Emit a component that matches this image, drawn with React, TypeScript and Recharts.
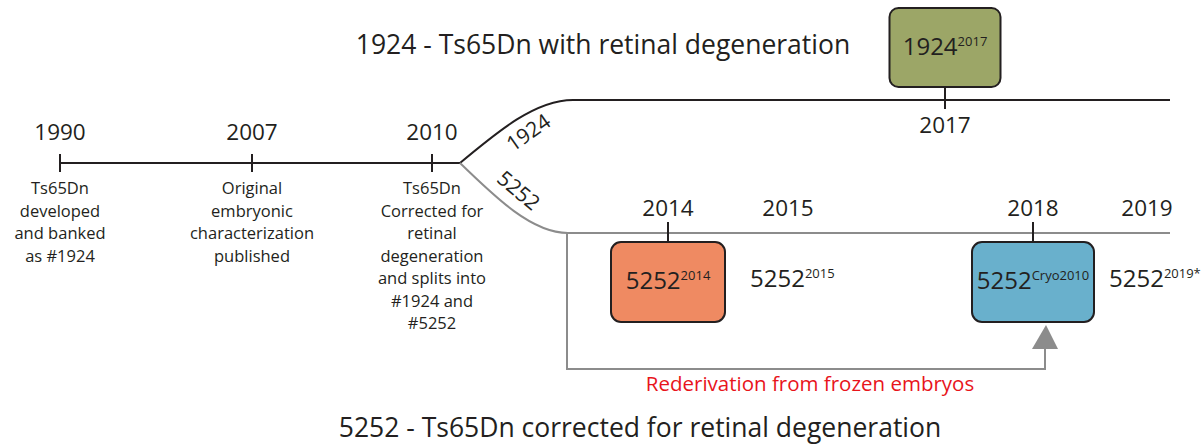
import { ComposedChart, Line, Scatter, XAxis, YAxis } from 'recharts'

// Schematic timeline. x = position along the drawing, y = track level (chart units).
const mainYears = ['1990', '2007', '2010']
const mainPos = [60, 252, 432]
const mainNotes = [
  ['Ts65Dn', 'developed', 'and banked', 'as #1924'],
  ['Original', 'embryonic', 'characterization', 'published'],
  ['Ts65Dn', 'Corrected for', 'retinal', 'degeneration', 'and splits into', '#1924 and', '#5252'],
]

const trackMain = 163
const track1924 = 100
const track5252 = 233
const forkPos = 460
const straightPos = 573
const endPos = 1170

const years1924 = ['2017']
const pos1924 = [945]
const sup1924 = ['2017']

const years5252 = ['2014', '2015', '2018', '2019']
const pos5252 = [668, 788, 1033, 1147]
const sup5252 = ['2014', '2015', 'Cryo2010', '2019*']
const boxed5252 = [true, false, true, false]

const rederivX = [567, 567, 1045, 1045]
const rederivY = [track5252, 369, 369, 349]

const titleTop = '1924 - Ts65Dn with retinal degeneration'
const titleBottom = '5252 - Ts65Dn corrected for retinal degeneration'
const rederivLabel = 'Rederivation from frozen embryos'

const ink = '#231f20'
const gray = '#8c8c8c'
const font = '"Open Sans", sans-serif'
const boxFill: Record<string, string> = {
  '2017': '#9ca667',
  '2014': '#ef8a62',
  Cryo2010: '#69b0cc',
}
const boxWidth: Record<string, number> = { '2017': 111, '2014': 114, Cryo2010: 122 }

const mainLine = [
  { x: mainPos[0], y: trackMain },
  { x: forkPos, y: trackMain },
]
const branch1924 = [
  { x: forkPos, y: trackMain },
  { x: straightPos, y: track1924 },
  { x: endPos, y: track1924 },
]
const branch5252 = [
  { x: forkPos, y: trackMain },
  { x: straightPos - 5, y: track5252 },
  { x: endPos, y: track5252 },
]
const rederivPath = rederivX.map((x, i) => ({ x, y: rederivY[i] }))
const arrowTip = [{ x: rederivX[3], y: rederivY[3] }]

const mainEvents = mainYears.map((year, i) => ({ x: mainPos[i], y: trackMain, year, note: mainNotes[i] }))
const events1924 = years1924.map((year, i) => ({ x: pos1924[i], y: track1924, year, sup: sup1924[i], name: '1924' }))
const events5252 = years5252.map((year, i) => ({
  x: pos5252[i],
  y: track5252,
  year,
  sup: sup5252[i],
  name: '5252',
  boxed: boxed5252[i],
}))
const branchLabels = [
  { x: 528, y: 132, text: '1924', angle: -35 },
  { x: 519, y: 190, text: '5252', angle: 40 },
]
const titles = [
  { x: 603, y: 54, text: titleTop, color: ink, size: 26.5 },
  { x: 640, y: 437, text: titleBottom, color: ink, size: 26.5 },
  { x: 810, y: 391, text: rederivLabel, color: '#e8141b', size: 20.5 },
]

function StrainText({ x, y, name, sup, anchor = 'middle' }: { x: number; y: number; name: string; sup: string; anchor?: string }) {
  return (
    <text x={x} y={y} textAnchor={anchor as any} fontFamily={font} fill={ink} fontSize={24}>
      <tspan>{name}</tspan>
      <tspan fontSize={13} dy={-9}>
        {sup}
      </tspan>
    </text>
  )
}

function MainTick(props: any) {
  const { cx, cy, payload } = props
  return (
    <g>
      <path d={`M${cx},${cy - 9}V${cy + 9}`} stroke={ink} strokeWidth={2} fill="none" />
      <text x={cx} y={cy - 23} textAnchor="middle" fontSize={22.5} fill={ink} fontFamily={font}>
        {payload.year}
      </text>
      <text textAnchor="middle" fontSize={16.5} fill={ink} fontFamily={font}>
        {payload.note.map((s: string, i: number) => (
          <tspan key={i} x={cx} y={cy + 31 + i * 22.5}>
            {s}
          </tspan>
        ))}
      </text>
    </g>
  )
}

function Event1924(props: any) {
  const { cx, cy, payload } = props
  const w = boxWidth[payload.sup]
  return (
    <g>
      <path d={`M${cx},${cy - 14}V${cy + 9}`} stroke={ink} strokeWidth={2} fill="none" />
      <rect x={cx - w / 2} y={cy - 92} width={w} height={79} rx={9} fill={boxFill[payload.sup]} stroke={ink} strokeWidth={2} />
      <StrainText x={cx} y={cy - 45} name={payload.name} sup={payload.sup} />
      <text x={cx} y={cy + 33} textAnchor="middle" fontSize={22.5} fill={ink} fontFamily={font}>
        {payload.year}
      </text>
    </g>
  )
}

function Event5252(props: any) {
  const { cx, cy, payload } = props
  const w = boxWidth[payload.sup]
  return (
    <g>
      {payload.boxed && (
        <>
          <path d={`M${cx},${cy - 11}V${cy + 10}`} stroke={ink} strokeWidth={2} fill="none" />
          <rect x={cx - w / 2} y={cy + 9} width={w} height={80} rx={10} fill={boxFill[payload.sup]} stroke={ink} strokeWidth={2} />
        </>
      )}
      {payload.boxed ? (
        <StrainText x={cx} y={cy + 56} name={payload.name} sup={payload.sup} />
      ) : (
        <StrainText x={cx - 38} y={cy + 54} name={payload.name} sup={payload.sup} anchor="start" />
      )}
      <text x={cx} y={cy - 17} textAnchor="middle" fontSize={22.5} fill={ink} fontFamily={font}>
        {payload.year}
      </text>
    </g>
  )
}

function BranchLabel(props: any) {
  const { cx, cy, payload } = props
  return (
    <text
      x={cx}
      y={cy}
      textAnchor="middle"
      dominantBaseline="central"
      fontSize={21}
      fill={ink}
      fontFamily={font}
      transform={`rotate(${payload.angle} ${cx} ${cy})`}
    >
      {payload.text}
    </text>
  )
}

function Title(props: any) {
  const { cx, cy, payload } = props
  return (
    <text x={cx} y={cy} textAnchor="middle" fontSize={payload.size} fill={payload.color} fontFamily={font}>
      {payload.text}
    </text>
  )
}

function Arrow(props: any) {
  const { cx, cy } = props
  return <path d={`M${cx - 13},${cy} L${cx + 13},${cy} L${cx + 1},${cy - 24} Z`} fill={gray} />
}

export default function App() {
  return (
    <div style={{ width: 1201, height: 446, background: '#fff' }}>
      <style>{'body{margin:0}'}</style>
      <ComposedChart width={1201} height={446} margin={{ top: 0, right: 0, bottom: 0, left: 0 }}>
        <XAxis type="number" dataKey="x" domain={[0, 1201]} allowDataOverflow hide />
        <YAxis type="number" dataKey="y" domain={[0, 446]} allowDataOverflow reversed hide />
        <Line data={rederivPath} dataKey="y" type="linear" stroke={gray} strokeWidth={2} dot={false} activeDot={false} isAnimationActive={false} />
        <Line data={mainLine} dataKey="y" type="linear" stroke={ink} strokeWidth={2} dot={false} activeDot={false} isAnimationActive={false} />
        <Line data={branch1924} dataKey="y" type="monotoneX" stroke={ink} strokeWidth={2} dot={false} activeDot={false} isAnimationActive={false} />
        <Line data={branch5252} dataKey="y" type="monotoneX" stroke={gray} strokeWidth={2} dot={false} activeDot={false} isAnimationActive={false} />
        <Scatter data={arrowTip} dataKey="y" shape={Arrow} activeShape={false as any} isAnimationActive={false} />
        <Scatter data={mainEvents} dataKey="y" shape={MainTick} activeShape={false as any} isAnimationActive={false} />
        <Scatter data={events1924} dataKey="y" shape={Event1924} activeShape={false as any} isAnimationActive={false} />
        <Scatter data={events5252} dataKey="y" shape={Event5252} activeShape={false as any} isAnimationActive={false} />
        <Scatter data={branchLabels} dataKey="y" shape={BranchLabel} activeShape={false as any} isAnimationActive={false} />
        <Scatter data={titles} dataKey="y" shape={Title} activeShape={false as any} isAnimationActive={false} />
      </ComposedChart>
    </div>
  )
}
